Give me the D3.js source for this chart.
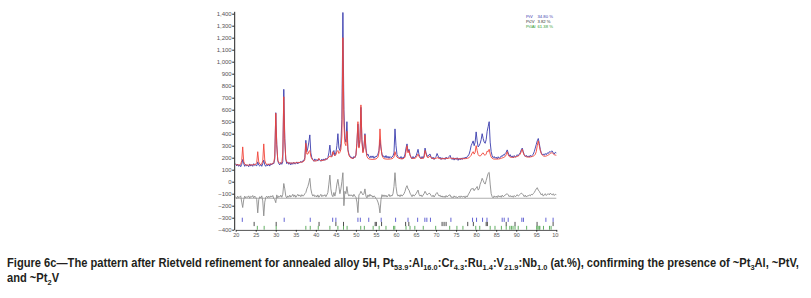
<!DOCTYPE html>
<html>
<head>
<meta charset="utf-8">
<script src="https://cdn.jsdelivr.net/npm/d3@7"></script>
<style>
  html, body { margin: 0; padding: 0; background: #fff; }
  svg { display: block; }
</style>
</head>
<body>
<div id="chart"></div>
<script>
// Rietveld 精修图数据（2θ 从 20° 起，步长 0.25°）
const twoThetaStart = 20;
const twoThetaStep = 0.25;

// 实测强度 (蓝)
const yObs = [
  150,132,146,128, 140,125,145,185, 150,128,145,132, 138,125,148,130, 142,128,150,135,
  140,132,165,138, 130,145,128,150, 180,140,128,145, 132,148,130,150, 140,155,150,190,
  575,310,175,150, 140,160,145,165, 770,360,185,150, 165,145,160,140, 158,145,162,148,
  150,165,148,162, 158,170,160,175, 175,200,345,250, 280,330,390,240, 200,185,170,190,
  175,185,172,190, 180,170,188,175, 190,178,195,185, 200,240,305,220, 210,245,260,220,
  240,300,400,280, 260,320,520,1410, 600,360,330,500, 270,230,215,200, 205,190,210,200,
  225,320,480,290, 350,620,350,250, 290,400,280,220, 230,210,198,215, 200,215,195,210,
  205,215,230,260, 350,280,230,210, 215,200,218,198, 212,195,210,200, 205,215,240,440,
  300,225,210,200, 195,210,188,205, 200,230,280,315, 250,270,225,205, 190,210,195,205,
  215,240,270,225, 205,190,210,195, 215,280,240,215, 210,225,230,205, 190,205,185,200,
  210,235,215,195, 205,185,200,188, 198,185,205,190, 200,210,220,195, 185,200,180,198,
  185,200,178,195, 182,198,185,200, 190,205,195,210, 215,230,260,300, 320,340,300,330,
  415,340,290,300, 320,350,400,360, 330,320,350,420, 460,500,330,250, 215,200,210,195,
  205,190,208,195, 200,215,210,225, 220,235,245,265, 240,215,225,205, 215,200,218,205,
  210,225,215,230, 240,265,280,250, 225,210,220,205, 215,205,220,208, 220,230,250,280,
  310,340,360,320, 270,240,225,230, 220,235,225,240, 235,250,245,255, 255,240,230,245,
  240
];

// 计算强度 (红)
const yCalc = [
  145,142,140,140, 141,145,175,290, 170,145,140,139, 139,138,139,140, 140,141,142,143,
  145,160,250,165, 146,144,148,175, 315,180,150,146, 145,145,146,147, 148,150,160,210,
  570,300,180,160, 155,155,158,230, 708,330,190,165, 158,156,155,155, 155,156,156,157,
  158,158,159,160, 161,162,164,166, 170,185,320,230, 230,250,260,210, 190,180,175,172,
  172,175,180,195, 180,176,176,178, 180,182,185,190, 195,205,215,205, 210,250,225,215,
  225,250,260,235, 245,270,380,1200, 480,320,300,420, 260,220,205,198, 195,195,198,205,
  220,330,500,280, 330,640,330,240, 280,390,260,210, 195,190,188,187, 186,186,187,188,
  190,195,205,240, 440,290,220,200, 192,190,189,188, 188,188,189,190, 192,196,205,250,
  220,205,198,195, 192,191,191,192, 195,205,250,300, 240,260,220,200, 196,194,194,196,
  200,215,230,210, 198,195,194,195, 200,260,230,205, 200,205,215,200, 195,193,192,193,
  195,200,198,194, 192,191,191,192, 192,193,195,194, 194,196,200,196, 194,193,192,192,
  191,191,191,191, 191,191,191,192, 192,192,193,195, 197,200,210,220, 240,250,230,245,
  300,260,225,215, 215,220,235,240, 225,220,230,255, 250,270,230,205, 195,190,188,188,
  188,188,189,190, 192,195,198,200, 205,210,225,250, 225,210,205,203, 203,203,205,207,
  208,210,214,220, 230,250,270,240, 220,212,208,206, 205,205,206,208, 210,213,218,228,
  250,300,340,300, 260,235,222,215, 212,212,214,218, 222,228,235,240, 240,232,225,222,
  220
];

// 差值曲线 (灰)，已含偏移
const yDiff = [
  -125,-140,-120,-135, -128,-118,-170,-215, -150,-120,-135,-125, -130,-118,-138,-122, -128,-115,-135,-120,
  -130,-150,-260,-150, -125,-135,-118,-160, -285,-170,-130,-120, -135,-120,-132,-118, -128,-115,-140,-150,
  -175,-110,-135,-120, -128,-112,-130,-105, -15,-60,-120,-135, -118,-130,-112,-128, -120,-105,-125,-110,
  -130,-118,-105,-120, -110,-125,-108,-120, -115,-100,-90,-60, -40,-10,28,-60, -100,-120,-108,-125,
  -115,-128,-110,-130, -118,-105,-125,-112, -120,-108,-125,-110, -90,-20,55,-60, -110,-125,-90,-120,
  -80,-20,20,-40, -100,-60,0,75, -200,-80,-100,-40, -100,-120,-108,-118, -110,-125,-105,-120,
  -130,-170,-258,-110, -100,-80,-95,-110, -100,-60,-120,-135, -110,-125,-105,-120, -115,-130,-118,-125,
  -140,-150,-170,-200, -260,-150,-108,-125, -110,-125,-112,-128, -118,-105,-125,-112, -120,-100,-40,75,
  -40,-100,-120,-110, -125,-108,-120,-112, -100,-80,-50,-33, -60,-70,-95,-110, -125,-108,-120,-112,
  -100,-85,-70,-105, -120,-110,-125,-112, -100,-80,-95,-110, -105,-95,-100,-115, -125,-112,-128,-115,
  -100,-90,-105,-120, -112,-128,-118,-130, -120,-132,-115,-128, -118,-112,-110,-130, -125,-135,-118,-130,
  -122,-135,-128,-120, -132,-118,-128,-125, -120,-135,-118,-128, -110,-95,-80,-60, -60,-55,-75,-60,
  -55,-40,-70,-60, -20,0,28,10, -10,-20,10,40, 70,78,-20,-100, -125,-135,-118,-130,
  -120,-132,-115,-128, -118,-130,-112,-125, -120,-110,-105,-100, -110,-125,-115,-128, -118,-130,-115,-125,
  -120,-108,-120,-112, -105,-95,-100,-110, -125,-112,-128,-118, -120,-110,-118,-105, -110,-100,-90,-75,
  -60,-50,-70,-80, -95,-110,-100,-120, -110,-100,-115,-105, -100,-110,-95,-105, -110,-100,-115,-105,
  -108
];
const diffZero = -138;

// 各相的布拉格峰位置
const ticksPtV = [21.65, 32.1, 38.6, 44.2, 45.0, 50.5, 51.1, 53.2, 56.3, 59.9, 63.0, 65.4, 67.2, 67.7, 68.6,
  73.7, 79.1, 80.1, 81.6, 82.7, 86.5, 87.0, 88.0, 91.4, 91.8, 97.4, 99.2];
const ticksPt2V = [24.6, 30.1, 40.8, 45.0, 46.9, 54.8, 55.1, 56.4, 62.4, 63.2, 71.5, 72.0, 72.5,
  77.9, 79.3, 82.5, 82.8, 87.5, 89.7, 95.2, 99.2];
const ticksPt3Al = [25.4, 27.1, 30.1, 37.5, 38.6, 40.6, 43.5, 45.5, 46.9, 47.8, 51.2, 52.1, 54.3, 55.8,
  57.5, 59.4, 59.7, 62.5, 63.5, 64.7, 66.8, 69.9, 73.4, 75.2, 76.7, 79.9, 80.9, 83.5, 84.7, 86.3, 87.5,
  88.4, 88.8, 89.2, 89.7, 90.5, 92.6, 95.1, 95.4, 95.7, 95.9, 96.8, 98.3, 98.7];

// 图例
const phaseNames = ["PtV", "Pt2V", "Pt3Al"];
const phasePercents = ["34.80 %", "3.82 %", "61.38 %"];

// 坐标刻度
const xTicks = [20, 25, 30, 35, 40, 45, 50, 55, 60, 65, 70, 75, 80, 85, 90, 95, 100];
const yTicks = [-400, -300, -200, -100, 0, 100, 200, 300, 400, 500, 600, 700, 800, 900,
  1000, 1100, 1200, 1300, 1400];

const W = 811, H = 298;

const svg = d3.select('#chart')
  .append('svg')
  .attr('width', W)
  .attr('height', H)
  .style('font-family', 'Arial, "Liberation Sans", sans-serif');

const x = d3.scaleLinear().domain([20, 100]).range([235.7, 556.3]);
const y = d3.scaleLinear().domain([-400, 1420]).range([229.7, 11.3]);

drawPattern();
drawTicks();
drawAxes();
drawLegend();
drawCaption();

function toPoints(arr) {
  return arr.map((v, i) => [twoThetaStart + i * twoThetaStep, v]);
}

function drawPattern() {
  const line = d3.line().x(d => x(d[0])).y(d => y(d[1]));

  // 差值零线
  svg.append('line')
    .attr('x1', x(20)).attr('x2', x(100))
    .attr('y1', y(diffZero)).attr('y2', y(diffZero))
    .attr('stroke', '#9a9a9a')
    .attr('stroke-width', 0.8);

  svg.append('path')
    .datum(toPoints(yDiff))
    .attr('d', line)
    .attr('fill', 'none')
    .attr('stroke', '#8c8c8c')
    .attr('stroke-width', 0.9);

  svg.append('path')
    .datum(toPoints(yObs))
    .attr('d', line)
    .attr('fill', 'none')
    .attr('stroke', '#3a3cae')
    .attr('stroke-width', 0.9);

  svg.append('path')
    .datum(toPoints(yCalc))
    .attr('d', line)
    .attr('fill', 'none')
    .attr('stroke', '#f0453a')
    .attr('stroke-width', 0.9);
}

function drawTicks() {
  const rows = [
    {data: ticksPtV, top: -300, bottom: -335, color: '#3c3cc8'},
    {data: ticksPt2V, top: -335, bottom: -370, color: '#222'},
    {data: ticksPt3Al, top: -368, bottom: -400, color: '#3a9a3a'}
  ];
  rows.forEach(r => {
    svg.append('g')
      .selectAll('line')
      .data(r.data)
      .join('line')
      .attr('x1', d => x(d)).attr('x2', d => x(d))
      .attr('y1', y(r.top)).attr('y2', y(r.bottom))
      .attr('stroke', r.color)
      .attr('stroke-width', 0.8);
  });
}

function drawAxes() {
  const yAxis = svg.append('g')
    .attr('transform', `translate(${x(20) - 1.5},0)`)
    .call(d3.axisLeft(y).tickValues(yTicks).tickSize(2).tickSizeOuter(0).tickFormat(d3.format(',')));
  yAxis.select('.domain').attr('stroke', '#222');
  yAxis.selectAll('.tick line').attr('stroke', '#222');
  yAxis.selectAll('text')
    .attr('fill', '#555')
    .attr('x', -2.5)
    .style('font-size', '6px');

  svg.append('clipPath').attr('id', 'xclip')
    .append('rect').attr('x', 0).attr('y', 0).attr('width', 558.5).attr('height', H);

  const xAxis = svg.append('g')
    .attr('clip-path', 'url(#xclip)')
    .attr('transform', `translate(0,${y(-400)})`)
    .call(d3.axisBottom(x).tickValues(xTicks).tickSize(2).tickSizeOuter(0));
  xAxis.select('.domain').attr('stroke', '#222');
  xAxis.selectAll('.tick line').attr('stroke', '#222');
  xAxis.selectAll('text')
    .attr('fill', '#555')
    .attr('y', 3.5)
    .style('font-size', '5.5px');
}

function drawLegend() {
  const colors = ['#3a3cae', '#333', '#2e9a2e'];
  const g = svg.append('g').style('font-size', '4.2px');
  phaseNames.forEach((n, i) => {
    const t = g.append('text')
      .attr('x', 526)
      .attr('y', 17.5 + i * 5)
      .attr('fill', colors[i]);
    const m = n.match(/^(\D+)(\d?)(\D*)$/);
    t.append('tspan').text(m[1]);
    if (m[2]) {
      t.append('tspan').attr('dy', 0.8).style('font-size', '3px').text(m[2]);
      t.append('tspan').attr('dy', -0.8).text(m[3]);
    }
    g.append('text')
      .attr('x', 537.5)
      .attr('y', 17.5 + i * 5)
      .attr('fill', colors[i])
      .text(phasePercents[i]);
  });
}

function drawCaption() {
  const cap = svg.append('g')
    .style('font-family', '"Liberation Sans Narrow", "Arial Narrow", "Liberation Sans", sans-serif')
    .style('font-weight', 'bold')
    .attr('fill', '#231f20');

  // 第一行：文字 + 下标
  const parts1 = [
    ['Figure 6c\u2014The pattern after Rietveld refinement for annealed alloy 5H, Pt', 0],
    ['53.9', 1], [':Al', 0], ['16.0', 1], [':Cr', 0], ['4.3', 1], [':Ru', 0], ['1.4', 1],
    [':V', 0], ['21.9', 1], [':Nb', 0], ['1.0', 1],
    [' (at.%), confirming the presence of ~Pt', 0], ['3', 1], ['Al, ~PtV,', 0]
  ];
  const parts2 = [['and ~Pt', 0], ['2', 1], ['V', 0]];

  function addLine(parts) {
    const t = cap.append('text').attr('x', 0).attr('y', 0).style('font-size', '12px');
    let prevSub = 0;
    parts.forEach(([s, sub]) => {
      const ts = t.append('tspan').text(s);
      if (sub !== prevSub) ts.attr('dy', sub ? 2.5 : -2.5);
      if (sub) ts.style('font-size', '8px');
      prevSub = sub;
    });
    return t;
  }

  const l1 = addLine(parts1);
  const l2 = addLine(parts2);
  const w1 = l1.node().getComputedTextLength();
  const k = 793 / w1;
  l1.attr('transform', `translate(7,267) scale(${k},1)`);
  l2.attr('transform', `translate(7,282) scale(${k},1)`);
}
</script>
</body>
</html>
